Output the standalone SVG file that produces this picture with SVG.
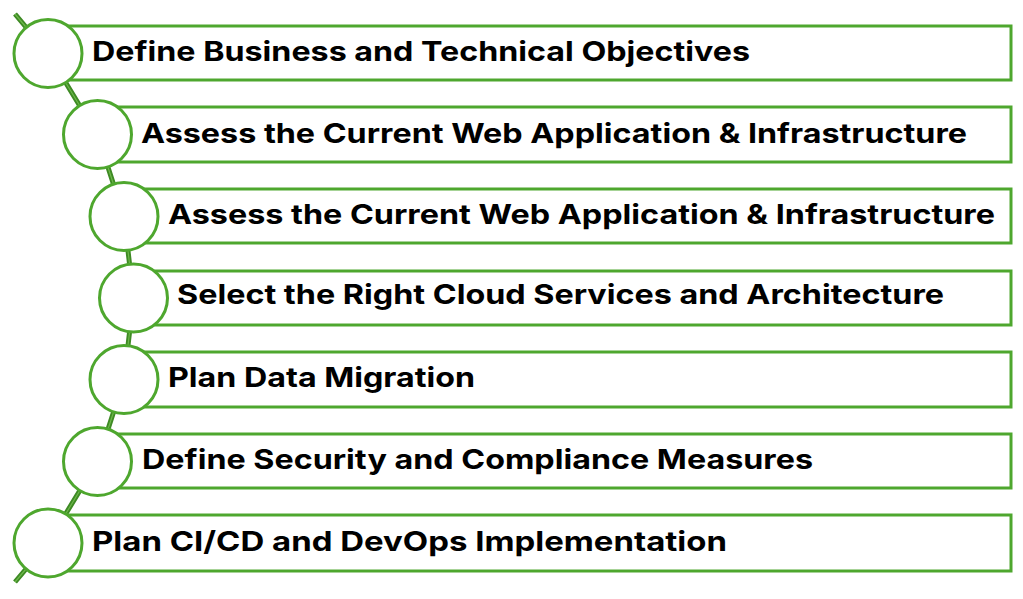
<svg xmlns="http://www.w3.org/2000/svg" width="1023" height="599" viewBox="0 0 1023 599">
<style>
.box{fill:#fff;stroke:#4EA72E;stroke-width:3}
.dot{fill:#fff;stroke:#4EA72E;stroke-width:3}
.lbl{font-family:Inter,"Liberation Sans",Arial,sans-serif;font-weight:bold;font-size:27.5px;fill:#000}
.spine{fill:none;stroke:#3E8A24;stroke-width:5;stroke-linejoin:round}
.spine2{fill:none;stroke:#6DB84A;stroke-width:1.2;stroke-linejoin:round}
</style>
<rect width="1023" height="599" fill="#fff"/>
<g id="connectors">
<polyline class="spine" points="15,14 48,53.5 97.5,135 124,216.5 133.5,298 124,380 97.5,461.5 48,543 15,582"/>
<polyline class="spine2" points="15,14 48,53.5 97.5,135 124,216.5 133.5,298 124,380 97.5,461.5 48,543 15,582"/>
</g>
<g id="n1"><rect class="box" x="48" y="26" width="963" height="54"/><circle class="dot" cx="48" cy="53.5" r="34"/><text class="lbl" x="92" y="61" textLength="658" lengthAdjust="spacingAndGlyphs">Define Business and Technical Objectives</text></g>
<g id="n2"><rect class="box" x="97.5" y="107" width="913.5" height="55"/><circle class="dot" cx="97.5" cy="134.5" r="34"/><text class="lbl" x="141" y="143" textLength="826" lengthAdjust="spacingAndGlyphs">Assess the Current Web Application &amp; Infrastructure</text></g>
<g id="n3"><rect class="box" x="124" y="189" width="887" height="54"/><circle class="dot" cx="124" cy="216.5" r="34"/><text class="lbl" x="168" y="224" textLength="827" lengthAdjust="spacingAndGlyphs">Assess the Current Web Application &amp; Infrastructure</text></g>
<g id="n4"><rect class="box" x="133.5" y="271" width="877.5" height="54"/><circle class="dot" cx="133.5" cy="298" r="34"/><text class="lbl" x="177" y="304" textLength="767" lengthAdjust="spacingAndGlyphs">Select the Right Cloud Services and Architecture</text></g>
<g id="n5"><rect class="box" x="124" y="352" width="887" height="55"/><circle class="dot" cx="124" cy="379.5" r="34"/><text class="lbl" x="168" y="387" textLength="307" lengthAdjust="spacingAndGlyphs">Plan Data Migration</text></g>
<g id="n6"><rect class="box" x="97.5" y="434" width="913.5" height="54"/><circle class="dot" cx="97.5" cy="461.5" r="34"/><text class="lbl" x="142" y="469" textLength="671" lengthAdjust="spacingAndGlyphs">Define Security and Compliance Measures</text></g>
<g id="n7"><rect class="box" x="48" y="515" width="963" height="56"/><circle class="dot" cx="48" cy="543" r="34"/><text class="lbl" x="92" y="551" textLength="635" lengthAdjust="spacingAndGlyphs">Plan CI/CD and DevOps Implementation</text></g>
</svg>
